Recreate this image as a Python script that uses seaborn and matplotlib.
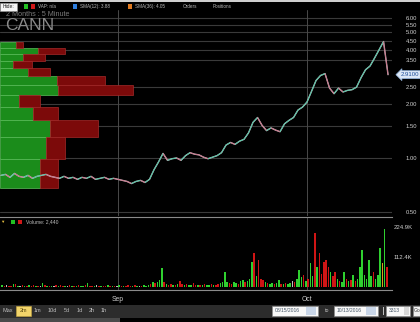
import numpy as np
import pandas as pd
import seaborn as sns
import matplotlib
matplotlib.use("Agg")
import matplotlib.pyplot as plt
from matplotlib.patches import Rectangle
from matplotlib.collections import LineCollection
from matplotlib.ticker import NullLocator, FixedLocator, FixedFormatter

# ---------------- data ----------------
# close price, two readings per trading day (Aug 15 .. Oct 13, 2016)
price = [0.80, 0.81, 0.78, 0.82, 0.79, 0.78, 0.80, 0.77, 0.79, 0.80,
         0.81, 0.79, 0.78, 0.77, 0.79, 0.77, 0.78, 0.76, 0.78, 0.77,
         0.79, 0.76, 0.77, 0.78, 0.76, 0.77, 0.76, 0.75, 0.74, 0.72,
         0.74, 0.75, 0.73, 0.76, 0.86, 0.95, 1.06, 0.97, 0.99, 1.00,
         0.97, 1.03, 1.07, 1.05, 1.04, 1.01, 0.99, 1.01, 1.03, 1.07,
         1.18, 1.22, 1.19, 1.24, 1.27, 1.38, 1.58, 1.68, 1.52, 1.42,
         1.47, 1.43, 1.40, 1.55, 1.62, 1.68, 1.85, 1.92, 2.05, 2.35,
         2.70, 2.88, 2.95, 2.45, 2.28, 2.45, 2.33, 2.38, 2.40, 2.48,
         2.80, 3.10, 3.25, 3.60, 4.00, 4.45, 2.91]
last_price = 2.91

# volume (K shares), four readings per trading day
volume = [6, 4, 8, 5,   3, 10, 12, 5,   4, 6, 3, 5,   8, 4, 6, 5,
          3, 4, 14, 6,  5, 4, 3, 5,     6, 4, 8, 5,   3, 4, 6, 5,
          4, 3, 7, 5,   4, 6, 16, 5,    4, 3, 6, 4,   5, 3, 4, 8,
          5, 4, 3, 5,   6, 4, 3, 5,     7, 4, 5, 6,   4, 3, 5, 6,
          5, 8, 12, 20, 14, 18, 25, 71, 20, 12, 8, 10, 8, 6, 10, 22,
          10, 8, 12, 9, 7, 14, 9, 6,    8, 6, 10, 7,  9, 12, 8, 6,
          10, 14, 18, 56, 20, 14, 12, 18, 16, 12, 22, 28, 18, 24, 30, 94,
          128, 40, 101, 30, 26, 18, 14, 12, 14, 10, 16, 26, 12, 10, 14, 12,
          16, 22, 18, 30, 64, 36, 45, 22, 30, 90, 40, 202, 75, 128, 50, 94,
          101, 75, 56, 40, 56, 30, 24, 20, 56, 30, 22, 26, 45, 24, 30, 75,
          139, 45, 30, 101, 40, 56, 30, 45, 146, 90, 217, 75]
vol_dir = ("grwr" "rgrg" "wrgr" "grrg" "rwgr" "grgw" "rgrr" "gwrg"
           "rgrg" "grgr" "rgwr" "grrg" "rgrw" "grgr" "rrgr" "gwrg"
           "ggrg" "rggg" "rgrr" "grgr" "rgrg" "grrg" "rgrg" "grgr"
           "rggg" "grrg" "grgg" "rggg" "rgrr" "rgrg" "grgg" "rgrg"
           "gwrg" "ggrg" "rggr" "grrr" "rrgr" "rgrg" "grgr" "grgg"
           "gggg" "grgg" "gogr")

# volume at price
vap_edges = [0.68, 0.99, 1.30, 1.62, 1.93, 2.24, 2.55, 2.86, 3.18, 3.49, 3.80, 4.11, 4.42]
vap_up = [40, 46, 50, 33, 19, 58, 57, 28, 13, 23, 38, 16]
vap_down = [18, 19, 48, 25, 21, 75, 48, 22, 19, 22, 27, 7]

price_ticks = [0.50, 1.00, 1.50, 2.00, 2.50, 3.50, 4.00, 4.50, 5.00, 5.50, 6.00]
vol_ticks = [112.4, 224.9]
vol_tick_labels = ["112.4K", "224.9K"]
month_days = [13, 34]
month_labels = ["Sep", "Oct"]

# ---------------- style ----------------
sns.set_theme(style="dark", rc={
    "figure.facecolor": "black", "axes.facecolor": "black",
    "axes.edgecolor": "black", "text.color": "#cccccc",
    "xtick.color": "#cccccc", "ytick.color": "#cccccc",
})
plt.rcParams["font.family"] = ["Liberation Sans", "DejaVu Sans"]

W, H = 420, 322
fig = plt.figure(figsize=(4.2, 3.22), dpi=100, facecolor="black")


def fx(px):
    return px / W


def fy(py):
    return 1 - py / H


XMIN, XMAX = -0.111, 43.44

# ---------------- price panel ----------------
ax = fig.add_axes([0, fy(216), fx(392), fy(10) - fy(216)])
ax.set_facecolor("black")
ax.set_yscale("log")
ax.set_ylim(0.475, 6.67)
ax.set_xlim(XMIN, XMAX)

for v in price_ticks:
    ax.axhline(v, color="#3a3a3a", lw=0.8, zorder=0.5)
for d in month_days:
    ax.axvline(d, color="#4a4a4a", lw=0.7, zorder=0.6)

# volume-at-price bars (1 unit = 1 px = 1/9 day)
edges = np.array(vap_edges)
up = np.array(vap_up) / 9.0
down = np.array(vap_down) / 9.0
ax.barh(edges[:-1], up, height=np.diff(edges), left=XMIN, align="edge",
        color="#1b8c1b", edgecolor="#5cc05c", lw=0.5, zorder=1)
ax.barh(edges[:-1], down, height=np.diff(edges), left=XMIN + up, align="edge",
        color="#7c0a0a", edgecolor="#a52a2a", lw=0.5, zorder=1)

t = np.arange(len(price)) * 0.5
df = pd.DataFrame({"t": t, "price": price})
sns.lineplot(data=df, x="t", y="price", ax=ax, color="#c9bcc4", lw=1.0, zorder=3)
pts = np.column_stack([t, price])
segs = np.stack([pts[:-1], pts[1:]], axis=1)
seg_cols = ["#3cc8a0" if b > a else "#c86a80" for a, b in zip(price[:-1], price[1:])]
ax.add_collection(LineCollection(segs, colors=seg_cols, lw=0.6, zorder=4))

ax.yaxis.tick_right()
ax.yaxis.set_major_locator(FixedLocator(price_ticks))
ax.yaxis.set_major_formatter(FixedFormatter([f"{v:.2f}" for v in price_ticks]))
ax.yaxis.set_minor_locator(NullLocator())
ax.tick_params(axis="y", length=0, pad=10, labelsize=4.2, labelcolor="#cfcfcf")
ax.set_xticks([])
ax.set_xlabel("")
ax.set_ylabel("")
for s in ax.spines.values():
    s.set_visible(False)

# last price tag
ax.annotate("2.9100", xy=(1.0, last_price), xycoords=("axes fraction", "data"),
            xytext=(6, 0), textcoords="offset points", ha="left", va="center",
            fontsize=4.3, color="#1f4f9a", annotation_clip=False,
            bbox=dict(boxstyle="larrow,pad=0.25", fc="#dbe7f6", ec="#8fb0d8", lw=0.5))

# ---------------- volume panel ----------------
ax2 = fig.add_axes([0, fy(290), fx(392), fy(217) - fy(290)])
ax2.set_facecolor("black")
ax2.set_xlim(XMIN, XMAX)
ax2.set_ylim(-11, 262)
cmap = {"g": "#2fd02f", "r": "#d01515", "w": "#bdbdbd", "o": "#d8a020"}
tv = np.arange(len(volume)) * 0.25 + 0.125
ax2.bar(tv, volume, width=0.16, color=[cmap[c] for c in vol_dir], lw=0, zorder=2)
for d in month_days:
    ax2.axvline(d, color="#4a4a4a", lw=0.7, zorder=1)
ax2.yaxis.tick_right()
ax2.set_yticks(vol_ticks)
ax2.set_yticklabels(vol_tick_labels)
ax2.tick_params(axis="y", length=0, pad=1, labelsize=4.3, labelcolor="#cfcfcf")
ax2.set_xticks(month_days)
ax2.set_xticklabels(month_labels)
ax2.tick_params(axis="x", length=0, pad=4, labelsize=4.9, labelcolor="#cfcfcf")
for k in ["left", "right"]:
    ax2.spines[k].set_visible(False)
for k in ["top", "bottom"]:
    ax2.spines[k].set_visible(True)
    ax2.spines[k].set_color("#8a8a8a")
    ax2.spines[k].set_linewidth(0.8)
ax2.grid(False)

# ---------------- figure decorations ----------------
def rect(x0, y0, x1, y1, fc, ec="none", lw=0.0, z=1):
    fig.patches.append(Rectangle((fx(x0), fy(y1)), fx(x1) - fx(x0), fy(y0) - fy(y1),
                                 transform=fig.transFigure, fc=fc, ec=ec, lw=lw, zorder=z))


def ftext(x, y, s, size, color, ha="left", **kw):
    fig.text(fx(x), fy(y), s, fontsize=size, color=color, ha=ha, va="center",
             zorder=5, **kw)


# top toolbar
rect(0, 0, 420, 1.6, "#cfcfcf")
rect(0, 3, 17, 11, "#f4f4f4", ec="#9a9a9a", lw=0.4)
ftext(8.5, 7, "Hide:", 3.6, "#222222", ha="center")
rect(24, 4.5, 28, 8.5, "#22c022")
rect(31, 4.5, 35, 8.5, "#d01818")
ftext(38, 6.5, "VAP: n/a", 3.3, "#bbbbbb")
rect(73, 4.5, 77, 8.5, "#2f7fe0")
ftext(80, 6.5, "SMA(12): 3.88", 3.3, "#bbbbbb")
rect(128, 4.5, 132, 8.5, "#e07a20")
ftext(135, 6.5, "SMA(36): 4.05", 3.3, "#bbbbbb")
ftext(183, 6.5, "Orders", 3.3, "#bbbbbb")
ftext(213, 6.5, "Positions", 3.3, "#bbbbbb")

# chart titles
ftext(6, 15, "2 Months : 5 Minute", 5.2, "#7a7a7a")
ftext(5, 25.5, "CANN", 12.5, "#8a8a8a")

# volume legend
ftext(2, 222, "\u25BC", 3.2, "#e8c040", ha="center")
rect(11, 220, 15, 224, "#22c022")
rect(18, 220, 22, 224, "#d01818")
ftext(26, 222, "Volume: 2,440", 3.6, "#bbbbbb")

# bottom toolbar
rect(0, 305, 420, 317.5, "#2c2c2c")
rect(0, 317.5, 120, 322, "#4a4a4a")
for lbl, xc in zip(["Max", "1m", "10d", "5d", "1d", "2h", "1h"],
                   [7.5, 37.5, 52.5, 66.5, 79.5, 91.5, 104]):
    ftext(xc, 311, lbl, 4.0, "#bdbdbd", ha="center")
rect(16, 306, 31, 315.5, "#f3d56a", ec="#c8a840", lw=0.4)
ftext(23.5, 311, "2m", 4.0, "#5a4a10", ha="center")

rect(272, 305.5, 318, 316, "#f8f8f8", ec="#888888", lw=0.4)
rect(306, 306.5, 316, 315, "#c9d6e8")
ftext(275, 311, "08/15/2016", 3.6, "#445566")
ftext(327, 311, "to", 3.8, "#bdbdbd", ha="center")
rect(334, 305.5, 378, 316, "#f8f8f8", ec="#888888", lw=0.4)
rect(366, 306.5, 376, 315, "#c9d6e8")
ftext(337, 311, "10/13/2016", 3.6, "#445566")
rect(383, 307, 384, 315, "#bdbdbd")
rect(386, 305.5, 410, 316, "#f8f8f8", ec="#888888", lw=0.4)
ftext(389, 311, "3313", 3.6, "#445566")
rect(404, 306.5, 409, 315, "#d8d8d8")
rect(413, 305.5, 421, 316, "#f0f0f0", ec="#888888", lw=0.4)
ftext(414, 311, "Go", 3.6, "#333333")

fig.savefig("out.png", dpi=100, facecolor="black")
